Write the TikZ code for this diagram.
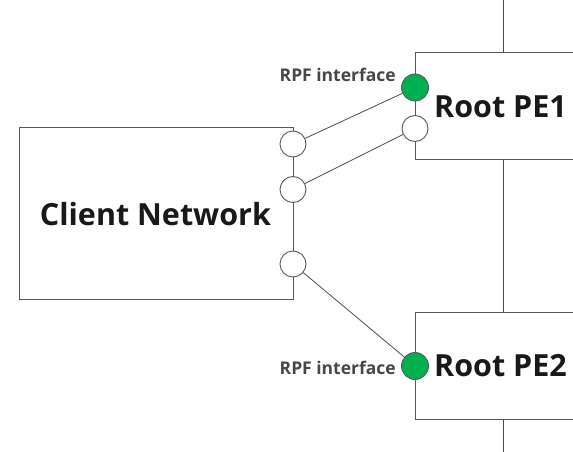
\documentclass[tikz,border=0pt]{standalone}
\usepackage{fontspec}
\setmainfont{Open Sans}
\definecolor{rpfgreen}{RGB}{0,176,80}
\begin{document}
\begin{tikzpicture}[x=1pt,y=-1pt,
  frame/.style={draw=black!65,line width=0.9pt,fill=white,inner sep=0pt,outer sep=0pt},
  port/.style={circle,draw=black!65,line width=0.9pt,fill=white,minimum size=26pt,inner sep=0pt},
  rpf/.style={circle,draw=black!65,line width=0.9pt,fill=rpfgreen,minimum size=27pt,inner sep=0pt},
  link/.style={draw=black!70,line width=0.8pt},
  bigtxt/.style={font=\fontsize{30.5}{33}\selectfont\bfseries,text=black!90,inner sep=0pt},
  smalltxt/.style={font=\fontsize{17.5}{19}\selectfont\bfseries,text=black!72,inner sep=0pt}]
\useasboundingbox (0,0) rectangle (573,452);
\clip (0,0) rectangle (573,452);
% backbone line
\coordinate (top) at (503,0);
\coordinate (bot) at (503,452);
\draw[link] (top) -- (bot);
% boxes
\node[frame,minimum width=274pt,minimum height=172pt] (client) at (156.5,213) {};
\node[frame,minimum width=200pt,minimum height=107pt,anchor=north west] (pe1) at (415,52.5) {};
\node[frame,minimum width=200pt,minimum height=107.5pt,anchor=north west] (pe2) at (415,312) {};
% texts
\node[bigtxt] (tclient) at (155.5,214.5) {Client Network};
\node[bigtxt,anchor=west] (tpe1) at (434,106.5) {Root PE1};
\node[bigtxt,anchor=west] (tpe2) at (434,366) {Root PE2};
% ports
\node[port] (c1) at (293,144) {};
\node[port] (c2) at (293,189.5) {};
\node[port] (c3) at (293,264) {};
\node[rpf] (g1) at (415,87.5) {};
\node[port] (w1) at (415,128.5) {};
\node[rpf] (g2) at (415,366) {};
% links
\draw[link] (c1) -- (g1);
\draw[link] (c2) -- (w1);
\draw[link] (c3) -- (g2);
% labels
\node[smalltxt,anchor=east] (l1) at (396,75) {RPF interface};
\node[smalltxt,anchor=east] (l2) at (396,368) {RPF interface};
\end{tikzpicture}
\end{document}
